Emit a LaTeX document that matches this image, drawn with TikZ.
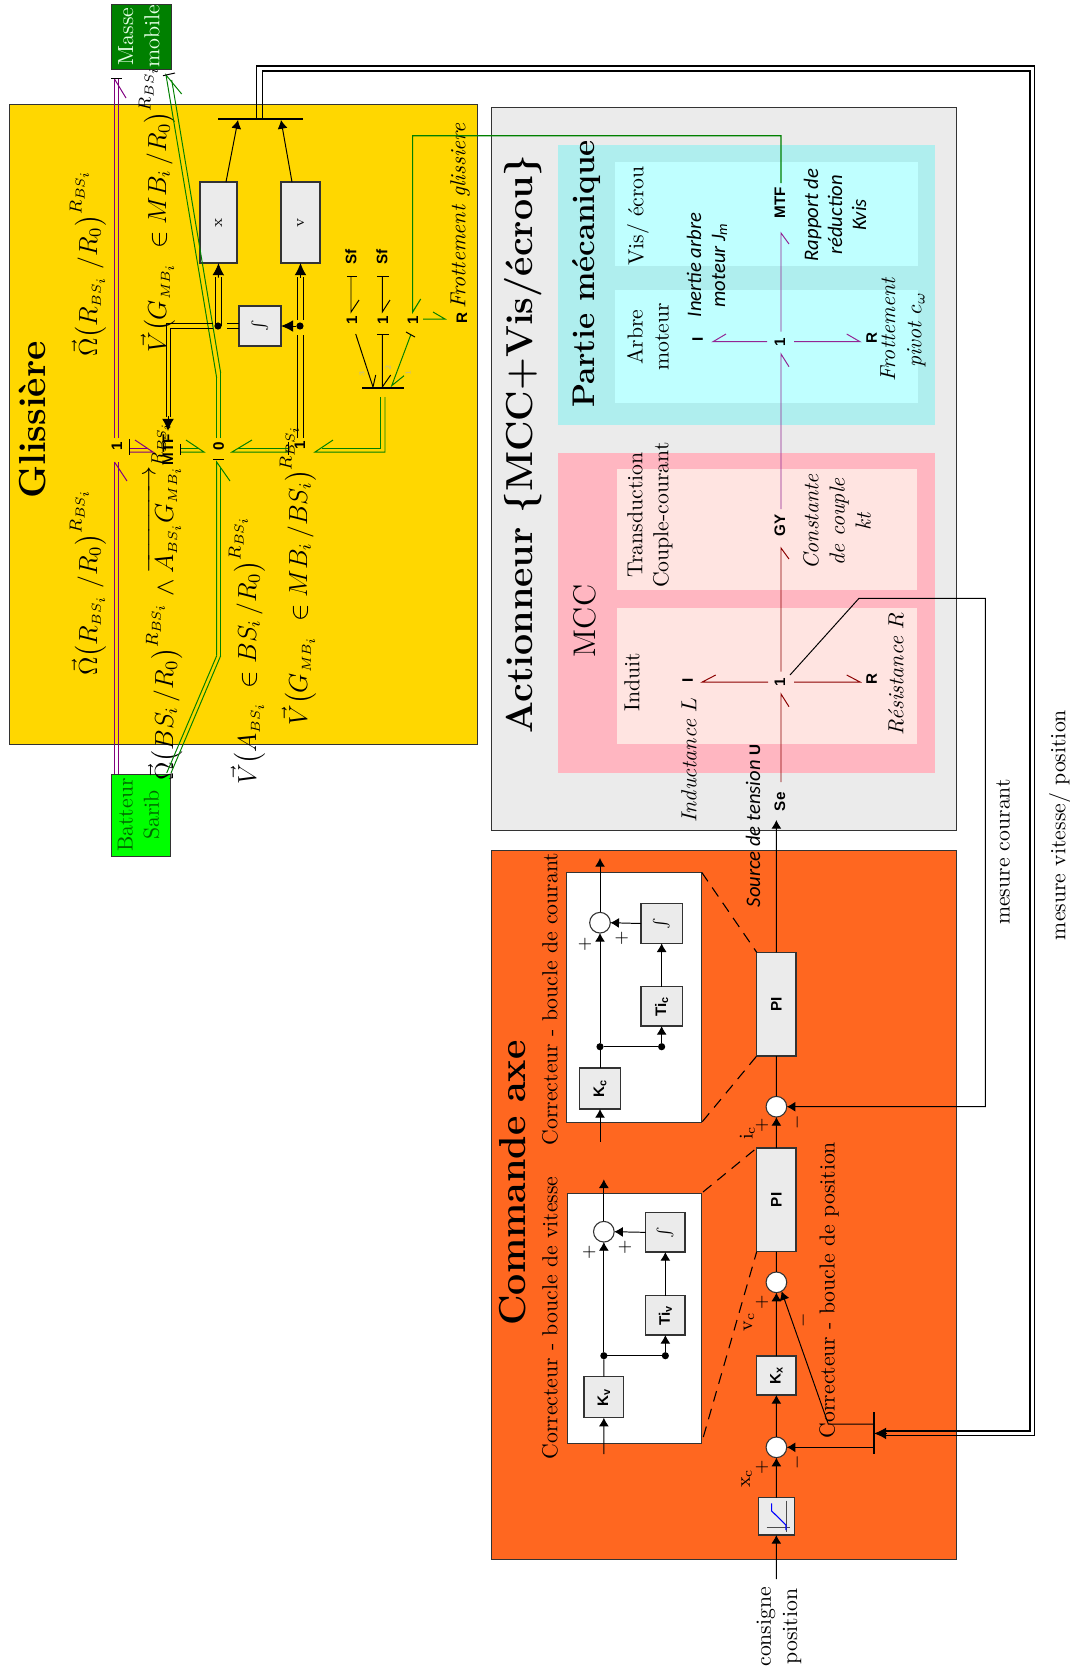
\documentclass[tikz,border=0pt]{standalone}
\usepackage{amsmath}
\usepackage{graphicx}
\usepackage{fontspec}
\usetikzlibrary{arrows.meta}
\newfontfamily\bsans{Liberation Sans}
\newfontfamily\carl{Carlito}
\definecolor{yel}{RGB}{255,215,0}
\definecolor{org}{RGB}{255,103,32}
\definecolor{lgray}{RGB}{235,235,235}
\definecolor{turq}{RGB}{175,238,238}
\definecolor{lcyan}{RGB}{191,255,255}
\definecolor{lpink}{RGB}{255,182,193}
\definecolor{mrose}{RGB}{255,228,225}
\definecolor{dgreen}{RGB}{0,128,0}
\definecolor{pgreen}{RGB}{0,255,0}
\definecolor{bpurple}{RGB}{128,0,128}
\definecolor{dred}{RGB}{139,0,0}
\tikzset{
  rot/.style={rotate=90,align=center,inner sep=0pt,outer sep=0pt},
  bg/.style={rot,font=\bsans\bfseries\fontsize{7}{8}\selectfont},
  cari/.style={rot,font=\carl\itshape\fontsize{9.5}{11}\selectfont},
  tit/.style={rot,font=\LARGE\bfseries},
  ital/.style={rot,font=\itshape,text width=,},
  mth/.style={rot,font=\large},
  tiny3/.style={rot,text=black!30,font=\fontsize{3.5}{4}\selectfont},
  panelbox/.style={draw=black!80,line width=.45pt,inner sep=0pt,outer sep=0pt},
  flat/.style={inner sep=0pt,outer sep=0pt},
  blockbox/.style={draw=black!80,fill=lgray,line width=.5pt,inner sep=0pt,outer sep=0pt,font=\bsans\bfseries\fontsize{7}{8}\selectfont},
  sumc/.style={circle,draw=black!80,fill=white,line width=.5pt,minimum size=9.5pt,inner sep=0pt,outer sep=0pt},
  dotn/.style={circle,fill=black,minimum size=3.3pt,inner sep=0pt,outer sep=0pt},
  arr/.style={-{Latex[length=4pt,width=4.6pt]},line width=.45pt},
  bigarr/.style={-{Latex[length=5.6pt,width=5.4pt]},line width=.45pt},
  wire/.style={line width=.45pt},
  dashw/.style={line width=.5pt,dash pattern=on 5pt off 3.5pt},
  sign/.style={rot,font=\footnotesize}
}
\newcommand\rect[7]{\node[#6,minimum width={(#4-#2)*0.46pt},minimum height={(#5-#3)*0.46pt}] (#1) at ({(#2+#4)/2},{(#3+#5)/2}) {#7};}
\newcommand\rtx[1]{\rotatebox{90}{\begin{tabular}{@{}c@{}}#1\end{tabular}}}
% half-arrow bond: name, colour, start, tip, barb end
\newcommand\bond[8]{\coordinate (#1a) at (#3,#4);\coordinate (#1b) at (#5,#6);\coordinate (#1c) at (#7,#8);\draw[#2,line width=.45pt,line join=miter] (#1a) -- (#1b) -- (#1c);}
% double bond piece, two parallel polylines given by named coordinates
\newcommand\stub[6]{\coordinate (#1a) at (#3,#4);\coordinate (#1b) at (#5,#6);\draw[#2,line width=.45pt] (#1a) -- (#1b);}
\newcommand\sbs{{\scriptscriptstyle BS_i}}
\newcommand\smb{{\scriptscriptstyle MB_i}}
\begin{document}
\begin{tikzpicture}[x=0.46pt,y=-0.46pt]
\useasboundingbox (0,0) rectangle (1070,1667);
% ---------- panels
\rect{glis}{9}{104}{477}{744}{panelbox,fill=yel}{}
\rect{act}{491}{107}{956}{830}{panelbox,fill=lgray}{}
\rect{cmd}{491}{850}{956}{1559}{panelbox,fill=org}{}
\rect{meca}{558}{145}{935}{425}{flat,fill=turq}{}
\rect{mcc}{558}{453}{935}{773}{flat,fill=lpink}{}
\rect{visz}{615}{162}{918}{266}{flat,fill=lcyan}{}
\rect{arbz}{615}{290}{918}{403}{flat,fill=lcyan}{}
\rect{trz}{617}{469}{917}{590}{flat,fill=mrose}{}
\rect{indz}{617}{608}{917}{744}{flat,fill=mrose}{}
\rect{curz}{566.3}{872.3}{701.7}{1122.3}{panelbox,fill=white}{}
\rect{vitz}{567.7}{1193.3}{701.7}{1443.3}{panelbox,fill=white}{}
% ---------- titles
\node[tit] (tg) at (33,420) {Glissière};
\node[tit] (ta) at (523,444) {Actionneur \{MCC+Vis/écrou\}};
\node[tit] (tc) at (513,1183) {Commande axe};
\node[rot,font=\Large\bfseries] (tp) at (587,274) {Partie mécanique};
\node[rot,font=\Large] (tm) at (585,621) {MCC};
% ---------- Glissière: outer blocks
\rect{masse}{111}{4}{171}{69}{panelbox,fill=dgreen,text=white!90!green}{\rtx{Masse\\mobile}}
\rect{batt}{111}{774}{170}{856}{panelbox,fill=pgreen,text=dgreen!80!black}{\rtx{Batteur\\Sarib}}
% ---------- Glissière: math labels
\node[mth] (l1) at (88,263) {$\vec{\Omega}\big(R_{\sbs}\;/R_0\big)^{R_{\sbs}}$};
\node[mth] (l2) at (88,582) {$\vec{\Omega}\big(R_{\sbs}\;/R_0\big)^{R_{\sbs}}$};
\node[mth] (l3) at (157,209) {$\vec{V}\big(G_{\smb}\;\in MB_i\,/R_0\big)^{R_{\sbs}}$};
\node[mth] (l4) at (164,601) {$\vec{\Omega}\big(BS_i\,/R_0\big)^{R_{\sbs}}\wedge\overrightarrow{A_{\sbs}G_{\smb}}^{R_{\sbs}}$};
\node[mth] (l5) at (247,650) {$\vec{V}\big(A_{\sbs}\;\in BS_i\,/R_0\big)^{R_{\sbs}}$};
\node[mth] (l6) at (298,575) {$\vec{V}\big(G_{\smb}\;\in MB_i\,/BS_i\big)^{R_{\sbs}}$};
% ---------- Glissière: bond-graph labels
\node[bg] (j1) at (117,446) {1};
\node[bg] (mtfg) at (168,450) {MTF};
\node[bg] (j0) at (218.7,446) {0};
\node[bg] (j2) at (300,445) {1};
\node[bg] (sf1) at (351,257) {Sf};
\node[bg] (sf2) at (382,257) {Sf};
\node[bg] (j3) at (352,320) {1};
\node[bg] (j4) at (383,320) {1};
\node[bg] (j5) at (413,320) {1};
\node[bg] (rg) at (462,318) {R};
\node[rot,font=\itshape] (tfg) at (460,216) {Frottement glissiere};
% blocks
\rect{bx}{200}{182}{237}{263}{blockbox}{\rtx{\normalfont\scriptsize x}}
\rect{bv}{281}{182}{320}{263}{blockbox}{\rtx{\normalfont\scriptsize v}}
\rect{bint}{239}{306}{281}{346}{blockbox}{\rtx{$\int$}}
\node[dotn] (d1) at (218,326) {};
\node[dotn] (d2) at (300,326) {};
\rect{bus}{218}{118}{303}{120}{flat,fill=black}{}
% purple bonds
\foreach \xx/\nn in {114.5/a,118.7/b}{
  \coordinate (pb\nn) at (\xx,774);\coordinate (pm\nn) at (\xx,462);
  \coordinate (pu\nn) at (\xx,438);\coordinate (pt\nn) at (\xx,79);
  \draw[bpurple,line width=.45pt] (pb\nn) -- (pm\nn);
  \draw[bpurple,line width=.45pt] (pu\nn) -- (pt\nn);
}
\coordinate (pbar1) at (127,481);\draw[bpurple,line width=.45pt] (pma) -- (pbar1);
\coordinate (pbar2) at (126,98);\draw[bpurple,line width=.45pt] (pta) -- (pbar2);
\coordinate (tbl) at (111,78);\coordinate (tbr) at (122,78);\draw[line width=.45pt] (tbl) -- (tbr);
\bond{pr}{bpurple}{129}{452}{153}{452}{135}{440}
\stub{prb}{bpurple}{129}{448}{147}{448}
\stub{prc}{black}{129}{439}{129}{455}
% green bonds
\bond{g1}{dgreen}{216.7}{655.7}{216.7}{462}{230}{481}
\stub{g1s}{dgreen}{220.7}{655.7}{220.7}{468}
\stub{g1t}{dgreen}{166.7}{773}{216.7}{655.7}
\stub{g1u}{dgreen}{171}{773}{220.7}{655.7}
\stub{g1v}{black}{213}{459}{224}{459}
\stub{g2a}{dgreen}{216.7}{438}{216.7}{378}
\stub{g2b}{dgreen}{220.7}{438}{220.7}{373}
\bond{g2c}{dgreen}{216.7}{378}{166}{75}{181.7}{94}
\stub{g2d}{dgreen}{220.7}{373}{171.7}{80}
\stub{g2e}{black}{163}{75.7}{175}{73}
\bond{g3}{dgreen}{180}{452}{204}{452}{186}{440}
\stub{g3b}{dgreen}{180}{448}{198}{448}
\stub{g3c}{black}{180}{444}{180}{455}
\bond{g4}{dgreen}{288}{452}{232}{452}{252}{440}
\stub{g4b}{dgreen}{288}{448}{238}{448}
\stub{g4c}{black}{288}{442}{288}{455}
\coordinate (g5a) at (385,397);\coordinate (g5b) at (385,452);\coordinate (g5c) at (315,452);\coordinate (g5d) at (333,440);
\draw[dgreen,line width=.45pt] (g5a) -- (g5b) -- (g5c) -- (g5d);
\coordinate (g6a) at (380,397);\coordinate (g6b) at (380,448);\coordinate (g6c) at (322,448);
\draw[dgreen,line width=.45pt] (g6a) -- (g6b) -- (g6c);
% small source bonds
\bond{s1}{black}{351}{276}{351}{312}{359}{300}
\stub{s1b}{black}{347}{276}{357}{276}
\bond{s2}{black}{382.3}{276}{382.3}{312}{390}{300}
\stub{s2b}{black}{377}{276}{389}{276}
\rect{jb}{362}{387}{404}{389}{flat,fill=black}{}
\bond{s3}{black}{355.7}{334}{373}{387}{375.7}{375}
\bond{s4}{black}{382.3}{334}{382.3}{387}{390.7}{375}
\stub{s4b}{black}{377}{334}{389}{334}
\bond{s5}{dgreen}{410.7}{335}{391.7}{385.7}{404}{375.7}
\stub{s5b}{black}{406}{332}{415}{337}
\node[tiny3] (n3) at (362,374) {3};
\node[tiny3] (n2) at (388,368) {2};
\node[tiny3] (n1) at (408,373) {1};
\bond{s6}{dgreen}{423}{319}{445}{319}{433}{312}
% black double links between blocks
\coordinate (bk1a) at (215.7,326);\coordinate (bk1b) at (215.7,277);
\coordinate (bk2a) at (221,326);\coordinate (bk2b) at (221,277);
\draw[wire] (bk1a) -- (bk1b);\draw[wire] (bk2a) -- (bk2b);
\coordinate (tipx) at (218.3,277.5);
\draw[bigarr] (tipx) -- (bx.south);
\coordinate (bk3a) at (297.6,438);\coordinate (bk3b) at (297.6,335);
\coordinate (bk4a) at (303.3,438);\coordinate (bk4b) at (303.3,335);
\draw[wire] (bk3a) -- (bk3b);\draw[wire] (bk4a) -- (bk4b);
\coordinate (bk5a) at (297.6,320);\coordinate (bk5b) at (297.6,277);
\coordinate (bk6a) at (303.3,320);\coordinate (bk6b) at (303.3,277);
\draw[wire] (bk5a) -- (bk5b);\draw[wire] (bk6a) -- (bk6b);
\coordinate (tipv) at (300.5,277.5);
\draw[bigarr] (tipv) -- (bv.south);
\draw[bigarr] (d2) -- (bint.east);
\coordinate (bk7a) at (213,323);\coordinate (bk7b) at (166,323);\coordinate (bk7c) at (166,417);
\coordinate (bk8a) at (213,328);\coordinate (bk8b) at (170,328);\coordinate (bk8c) at (170,417);
\draw[wire] (bk7a) -- (bk7b) -- (bk7c);\draw[wire] (bk8a) -- (bk8b) -- (bk8c);
\coordinate (tipm) at (168,416);\coordinate (tipn) at (168,431);
\draw[bigarr] (tipm) -- (tipn);
\coordinate (bk9a) at (227,323.5);\coordinate (bk9b) at (238.5,323.5);
\coordinate (bk0a) at (227,328);\coordinate (bk0b) at (238.5,328);
\draw[wire] (bk9a) -- (bk9b);\draw[wire] (bk0a) -- (bk0b);
\coordinate (bxo) at (226,182);\coordinate (bxt) at (238,120);
\coordinate (bvo) at (292,182);\coordinate (bvt) at (281,120);
\draw[arr] (bxo) -- (bxt);\draw[arr] (bvo) -- (bvt);
% ---------- measurement double line
\coordinate (m1a) at (256.7,118);\coordinate (m1b) at (256.7,66);\coordinate (m1c) at (1034.7,66);\coordinate (m1d) at (1034.7,1435.7);\coordinate (m1e) at (885,1435.7);
\coordinate (m2a) at (262.7,118);\coordinate (m2b) at (262.7,71);\coordinate (m2c) at (1030,71);\coordinate (m2d) at (1030,1431);\coordinate (m2e) at (885,1431);
\draw[line width=.5pt] (m1a) -- (m1b) -- (m1c) -- (m1d) -- (m1e);
\draw[line width=.5pt] (m2a) -- (m2b) -- (m2c) -- (m2d) -- (m2e);
% ---------- mechanical part
\node[rot] (tvis) at (638,216) {Vis/ écrou};
\node[rot] (tarb) at (648,337) {Arbre\\moteur};
\node[cari] (tin) at (707,265) {Inertie arbre\\moteur J\textsubscript{m}};
\node[cari] (trap) at (835,215) {Rapport de\\réduction\\Kvis};
\node[rot,font=\itshape] (tfp) at (903,330) {Frottement\\pivot $c_\omega$};
\node[bg] (ic) at (697.7,339) {I};
\node[bg] (jm) at (780,342) {1};
\node[bg] (rm) at (871.7,338) {R};
\node[bg] (mtfm) at (780,203) {MTF};
\bond{m1}{bpurple!85!white}{767}{341.7}{713}{341.7}{726}{334}
\bond{m2}{bpurple!85!white}{794}{341.7}{860}{341.7}{846.7}{334}
\bond{m3}{bpurple!85!white}{781}{331.7}{781}{233}{789}{244}
\bond{m4}{bpurple!85!white}{781}{509}{781}{354}{789}{366.7}
% green link MTF -> 1
\coordinate (ga) at (781,183);\coordinate (gb) at (781,135.7);\coordinate (gc) at (412.7,135.7);\coordinate (gd) at (412.7,312);\coordinate (ge) at (420.7,299);
\draw[dgreen,line width=.5pt] (ga) -- (gb) -- (gc) -- (gd) -- (ge);
% ---------- MCC
\node[rot] (ttr) at (650,515) {Transduction\\Couple-courant};
\node[rot,font=\itshape] (tcst) at (837,522) {Constante\\de couple\\kt};
\node[rot] (tind) at (632,682) {Induit};
\node[rot,font=\itshape] (tL) at (689,760) {Inductance $L$};
\node[rot,font=\itshape] (tR) at (896,674) {Résistance $R$};
\node[rot,font=\carl\itshape\fontsize{9.5}{11}\selectfont] (tse) at (753,826) {Source de tension {\bsans\upshape\bfseries\fontsize{7}{8}\selectfont U}};
\node[bg] (gy) at (780,525) {GY};
\node[bg] (jc) at (780,682) {1};
\node[bg] (ie) at (687.7,680.7) {I};
\node[bg] (re) at (871.7,679) {R};
\node[bg] (se) at (780,801.7) {Se};
\bond{e1}{dred}{781}{671.7}{781}{548}{789}{559}
\bond{e2}{dred}{768}{682}{702.3}{682}{715.7}{675}
\bond{e3}{dred}{794}{682}{860}{682}{846.7}{675}
\bond{e4}{dred}{781}{782}{781}{694}{789}{706.7}
% ---------- command: boxes
\rect{pi1}{756.7}{952.3}{796}{1056}{blockbox}{\rotatebox{90}{PI}}
\rect{pi2}{756.7}{1148}{796}{1251.7}{blockbox}{\rotatebox{90}{PI}}
\rect{kx}{756.7}{1356}{796}{1395}{blockbox}{\rotatebox{90}{K\textsubscript{x}}}
\rect{cons}{758.3}{1497.7}{794.3}{1535}{blockbox}{}
\node[sumc] (s2) at (776.4,1106.7) {};
\node[sumc] (s3) at (776.4,1282.3) {};
\node[sumc] (s4) at (776.4,1447.3) {};
\rect{kc}{579.3}{1068}{620.7}{1109}{blockbox}{\rotatebox{90}{K\textsubscript{c}}}
\rect{tic}{641}{986.7}{682.3}{1026}{blockbox}{\rotatebox{90}{Ti\textsubscript{c}}}
\rect{ic2}{641}{903.7}{682.3}{943.3}{blockbox}{\rtx{\normalfont$\int$}}
\node[sumc] (sc) at (600,922.7) {};
\node[dotn] (dc1) at (600,1046.7) {};
\node[dotn] (dc2) at (661.65,1046.7) {};
\rect{kv}{584}{1376.7}{623.7}{1417.7}{blockbox}{\rotatebox{90}{K\textsubscript{v}}}
\rect{tiv}{645.7}{1295.7}{685}{1335}{blockbox}{\rotatebox{90}{Ti\textsubscript{v}}}
\rect{iv2}{645.7}{1212.7}{685}{1252}{blockbox}{\rtx{\normalfont$\int$}}
\node[sumc] (sv) at (603.85,1231.7) {};
\node[dotn] (dv1) at (603.85,1355.7) {};
\node[dotn] (dv2) at (665.35,1355.7) {};
% current corrector wiring
\coordinate (cin) at (600,1141.7);\coordinate (cout) at (600,858);
\draw[arr] (cin) -- (kc.south);
\draw[wire] (kc.north) -- (dc1);
\draw[arr] (dc1) -- (sc.south);
\draw[wire] (dc1) -- (dc2);
\draw[arr] (dc2) -- (tic.south);
\draw[arr] (tic.north) -- (ic2.south);
\draw[arr] (ic2.west) -- (sc.east);
\draw[arr] (sc.north) -- (cout);
% velocity corrector wiring
\coordinate (vin) at (603.85,1454);\coordinate (vout) at (603.85,1179.3);
\draw[arr] (vin) -- (kv.south);
\draw[wire] (kv.north) -- (dv1);
\draw[arr] (dv1) -- (sv.south);
\draw[wire] (dv1) -- (dv2);
\draw[arr] (dv2) -- (tiv.south);
\draw[arr] (tiv.north) -- (iv2.south);
\draw[arr] (iv2.west) -- (sv.east);
\draw[arr] (sv.north) -- (vout);
% main chain
\coordinate (cinp) at (776.4,1579);
\draw[arr] (cinp) -- (cons.south);
\draw[arr] (cons.north) -- (s4.south);
\draw[arr] (s4.north) -- (kx.south);
\draw[arr] (kx.north) -- (s3.south);
\draw[wire] (s3.north) -- (pi2.south);
\draw[arr] (pi2.north) -- (s2.south);
\draw[wire] (s2.north) -- (pi1.south);
\coordinate (seT) at (776.4,820);
\draw[arr] (pi1.north) -- (seT);
% dashed zoom lines
\coordinate (dz1) at (701.7,872.3);\coordinate (dz2) at (702.3,1121.7);
\draw[dashw] (dz1) -- (pi1.north west);
\draw[dashw] (dz2) -- (pi1.south west);
\coordinate (dz3) at (703,1192);\coordinate (dz4) at (703.3,1437);
\draw[dashw] (dz3) -- (pi2.north west);
\draw[dashw] (dz4) -- (pi2.south west);
% feedback
\rect{fbar}{873}{1412.3}{875}{1454.3}{flat,fill=black}{}
\coordinate (ftip) at (885.5,1433.4);\coordinate (ftop) at (874,1433.4);
\draw[bigarr] (ftip) -- (ftop);
\coordinate (f1) at (874,1424);\coordinate (f2) at (828.3,1424);
\draw[arr] (f1) -- (f2) -- (s3.-60);
\coordinate (f3) at (874,1447.3);
\draw[arr] (f3) -- (s4.east);
\coordinate (mc0) at (790,675);\coordinate (mc1) at (859,598.3);\coordinate (mc2) at (985.3,598.3);
\draw[arr] (mc0) -- (mc1) -- (mc2) |- (s2.east);
% nonlinear icon
\coordinate (ia) at (786.7,1500.5);\coordinate (ib) at (786.7,1532);\coordinate (ic1) at (766.7,1527.3);\coordinate (id) at (790,1527.3);
\draw[line width=.45pt,black!70] (ia) -- (ib);\draw[line width=.45pt,black!70] (ic1) -- (id);
\coordinate (ie1) at (771.7,1503.3);\coordinate (ie2) at (771.7,1511);\coordinate (ie3) at (786,1525);\coordinate (ie4) at (786,1530);
\draw[blue,line width=.5pt] (ie1) -- (ie2) -- (ie3) -- (ie4);
% signs
\node[sign] (p1) at (585,944) {$+$};
\node[sign] (p2) at (621.7,938.3) {$+$};
\node[sign] (p3) at (589.3,1252.3) {$+$};
\node[sign] (p4) at (625,1247.3) {$+$};
\node[sign] (p5) at (762,1125.7) {$+$};
\node[sign] (p6) at (762,1302.7) {$+$};
\node[sign] (p7) at (762,1467.7) {$+$};
\node[sign] (q1) at (797.3,1122.3) {$-$};
\node[sign] (q2) at (803.3,1320) {$-$};
\node[sign] (q3) at (797.3,1462.3) {$-$};
\node[rot,font=\small] (lic) at (747.3,1132.7) {i\textsubscript{c}};
\node[rot,font=\small] (lvc) at (749,1321.7) {v\textsubscript{c}};
\node[rot,font=\small] (lxc) at (746.7,1478.3) {x\textsubscript{c}};
% captions
\node[rot] (cc) at (550,999) {Correcteur - boucle de courant};
\node[rot] (cv) at (550,1318) {Correcteur - boucle de vitesse};
\node[rot] (cp) at (829,1290) {Correcteur - boucle de position};
\node[rot] (cons2) at (779,1626.7) {consigne\\position};
\node[rot] (mco) at (1003,852) {mesure courant};
\node[rot] (mvp) at (1060,825) {mesure vitesse/ position};
\end{tikzpicture}
\end{document}
